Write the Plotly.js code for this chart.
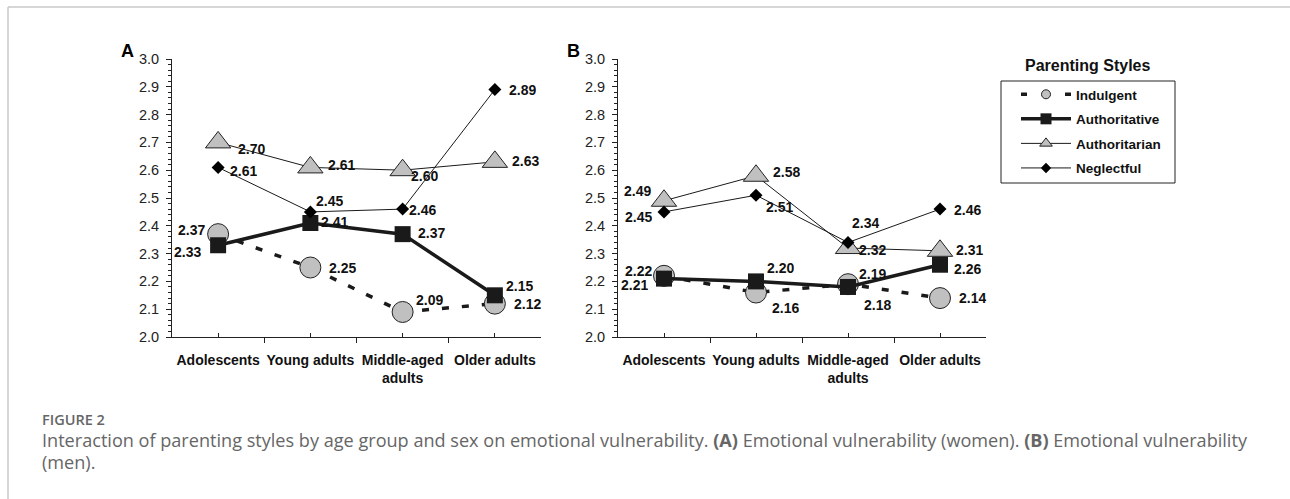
<!DOCTYPE html>
<html>
<head>
<meta charset="utf-8">
<script src="https://cdn.plot.ly/plotly-3.0.1.min.js"></script>
<style>
html,body{margin:0;padding:0;background:#fff;}
#chart{width:1290px;height:499px;}
</style>
</head>
<body>
<div id="chart"></div>
<script>
// ---- data ----
var categories = ["Adolescents", "Young adults", "Middle-aged<br>adults", "Older adults"];
var seriesNames = ["Indulgent", "Authoritative", "Authoritarian", "Neglectful"];

var womenIndulgent     = [2.37, 2.25, 2.09, 2.12];
var womenAuthoritative = [2.33, 2.41, 2.37, 2.15];
var womenAuthoritarian = [2.70, 2.61, 2.60, 2.63];
var womenNeglectful    = [2.61, 2.45, 2.46, 2.89];

var menIndulgent       = [2.22, 2.16, 2.19, 2.14];
var menAuthoritative   = [2.21, 2.20, 2.18, 2.26];
var menAuthoritarian   = [2.49, 2.58, 2.32, 2.31];
var menNeglectful      = [2.45, 2.51, 2.34, 2.46];

var yTickVals = [2.0, 2.1, 2.2, 2.3, 2.4, 2.5, 2.6, 2.7, 2.8, 2.9, 3.0];

// ---- label offsets (px: dx right, dy down) ----
var offsA = [
  [[-27,-5],[32,0],[27,-12],[33,0]],
  [[-31,6],[24,-2],[29,-2],[25,-10]],
  [[33,6],[31,-3],[22,5],[31,-1]],
  [[25,3],[19,-11],[20,0],[28,0]]
];
var offsB = [
  [[-26,-5],[29,15],[24,-11],[32,-1]],
  [[-30,6],[24,-14],[29,18],[27,4]],
  [[-27,-10],[30,-4],[24,1],[29,-1]],
  [[-26,5],[23,11],[17,-20],[27,0]]
];

var W = 1290, H = 499;
function px(x){ return x / W; }
function py(y){ return 1 - y / H; }

var styles = [
  {line:{color:'#1a1a1a', width:3.5, dash:'7px,13px'}, marker:{symbol:'circle', size:21, color:'#c0c0c0', line:{color:'#222', width:1}}, lm:{size:9}},
  {line:{color:'#1a1a1a', width:3.5}, marker:{symbol:'square', size:16, color:'#1a1a1a', line:{color:'#1a1a1a', width:0}}, lm:{size:11}},
  {line:{color:'#1a1a1a', width:1}, marker:{symbol:'triangle-up', size:22, color:'#c0c0c0', line:{color:'#222', width:1}}, lm:{size:11}},
  {line:{color:'#1a1a1a', width:1}, marker:{symbol:'diamond', size:10, color:'#000', line:{color:'#000', width:0}}, lm:{size:8}}
];

var xIdx = categories.map(function(c, i){ return i; });
var womenSeries = [womenIndulgent, womenAuthoritative, womenAuthoritarian, womenNeglectful];
var menSeries = [menIndulgent, menAuthoritative, menAuthoritarian, menNeglectful];

var traces = [];
var annotations = [];

function addPanel(series, offs, xa, ya) {
  series.forEach(function(vals, s){
    traces.push({
      type:'scatter', mode:'lines+markers', x:xIdx, y:vals, xaxis:xa, yaxis:ya,
      name:seriesNames[s], showlegend:false, hoverinfo:'skip',
      line:styles[s].line, marker:styles[s].marker
    });
    vals.forEach(function(v, i){
      annotations.push({
        xref:xa, yref:ya, x:i, y:v, text:v.toFixed(2), showarrow:false,
        xshift:offs[s][i][0], yshift:-offs[s][i][1],
        font:{family:'Liberation Sans, Arial, sans-serif', size:14, color:'#111', weight:'bold'},
        xanchor:'center', yanchor:'middle', height:13
      });
    });
  });
}
addPanel(womenSeries, offsA, 'x', 'y');
addPanel(menSeries, offsB, 'x2', 'y2');

// legend-only traces
seriesNames.forEach(function(n, s){
  var m = JSON.parse(JSON.stringify(styles[s].marker));
  m.size = styles[s].lm.size;
  var ln = JSON.parse(JSON.stringify(styles[s].line));
  if (s === 0) { ln.dash = '6px,16px'; }
  traces.push({type:'scatter', mode:'lines+markers', x:[null], y:[null], name:n,
    legendgroup:'g'+s, showlegend:true, line:ln, marker:m, hoverinfo:'skip'});
});

var tickFont = {family:'Liberation Sans, Arial, sans-serif', size:14.5, color:'#222'};
var catFont = {family:'Liberation Sans, Arial, sans-serif', size:14, color:'#111', weight:'bold'};

function xAxis(dom, anchor) {
  return {
    domain:dom, anchor:anchor, range:[-0.5, 3.5], showgrid:false, zeroline:false,
    showline:true, linecolor:'#222', linewidth:1,
    tickmode:'array', tickvals:xIdx, ticktext:categories,
    ticks:'inside', ticklen:4, tickcolor:'#222', tickfont:catFont, ticklabelstandoff:10,
    minor:{tickmode:'array', tickvals:[-0.5, 0.5, 1.5, 2.5, 3.5], ticks:'outside', ticklen:5, tickcolor:'#222', showgrid:false},
    fixedrange:true
  };
}
function yAxis(anchor) {
  return {
    domain:[py(337), py(59)], anchor:anchor, range:[2.0, 3.0], showgrid:false, zeroline:false,
    showline:true, linecolor:'#222', linewidth:1,
    tickmode:'array', tickvals:yTickVals, tickformat:'.1f',
    ticks:'outside', ticklen:5, tickcolor:'#222', tickfont:tickFont, ticklabelstandoff:4,
    minor:{dtick:0.02, tick0:2.0, ticks:'outside', ticklen:3, tickcolor:'#222', showgrid:false},
    fixedrange:true
  };
}

annotations.push({xref:'paper', yref:'paper', x:px(127), y:py(51), text:'A', showarrow:false,
  font:{family:'Liberation Sans, Arial, sans-serif', size:18, color:'#000', weight:'bold'}, xanchor:'center', yanchor:'middle'});
annotations.push({xref:'paper', yref:'paper', x:px(573), y:py(51), text:'B', showarrow:false,
  font:{family:'Liberation Sans, Arial, sans-serif', size:18, color:'#000', weight:'bold'}, xanchor:'center', yanchor:'middle'});
annotations.push({xref:'paper', yref:'paper', x:px(1087), y:py(65), text:'Parenting Styles', showarrow:false,
  font:{family:'Liberation Sans, Arial, sans-serif', size:16, color:'#111', weight:'bold'}, xanchor:'center', yanchor:'middle'});
annotations.push({xref:'paper', yref:'paper', x:px(40), y:py(419), text:'FIGURE 2', showarrow:false,
  font:{family:'Open Sans, sans-serif', size:14.5, color:'#666', weight:600}, xanchor:'left', yanchor:'middle'});
annotations.push({xref:'paper', yref:'paper', x:px(40), y:py(440),
  text:'Interaction of parenting styles by age group and sex on emotional vulnerability. <b>(A)</b> Emotional vulnerability (women). <b>(B)</b> Emotional vulnerability',
  showarrow:false, font:{family:'Open Sans, sans-serif', size:18.1, color:'#666'}, xanchor:'left', yanchor:'middle'});
annotations.push({xref:'paper', yref:'paper', x:px(40), y:py(462), text:'(men).',
  showarrow:false, font:{family:'Open Sans, sans-serif', size:18.1, color:'#666'}, xanchor:'left', yanchor:'middle'});

var layout = {
  width:W, height:H, margin:{l:0, r:0, t:0, b:0},
  paper_bgcolor:'#fff', plot_bgcolor:'rgba(0,0,0,0)',
  xaxis:xAxis([px(172), px(541)], 'y'),
  yaxis:yAxis('x'),
  xaxis2:xAxis([px(618), px(986)], 'y2'),
  yaxis2:yAxis('x2'),
  showlegend:true,
  legend:{x:px(1016), y:py(79), xanchor:'left', yanchor:'top', bgcolor:'rgba(0,0,0,0)', borderwidth:0,
    font:{family:'Liberation Sans, Arial, sans-serif', size:13.5, color:'#111', weight:'bold'},
    itemwidth:50, tracegroupgap:4, traceorder:'grouped', itemclick:false, itemdoubleclick:false},
  annotations:annotations,
  shapes:[
    {type:'rect', xref:'paper', yref:'paper', x0:px(1001), x1:px(1175), y0:py(183), y1:py(81), line:{color:'#222', width:1}},
    {type:'line', xref:'paper', yref:'paper', x0:px(8), x1:1, y0:py(7), y1:py(7), line:{color:'#c8c8c8', width:1.5}},
    {type:'line', xref:'paper', yref:'paper', x0:px(8), x1:px(8), y0:py(7), y1:0, line:{color:'#c8c8c8', width:1.5}}
  ]
};

Plotly.newPlot('chart', traces, layout, {displayModeBar:false, staticPlot:true});
</script>
</body>
</html>
